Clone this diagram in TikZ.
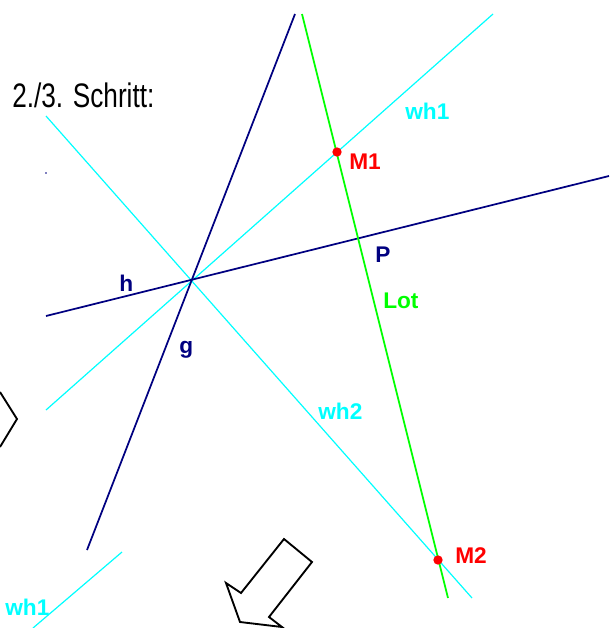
\documentclass[tikz,border=0pt]{standalone}
\usepackage{fontspec}
\setmainfont{Liberation Sans}
\newfontfamily\titlefont{Liberation Sans}[FakeStretch=0.77]
\usetikzlibrary{positioning}
\definecolor{cnavy}{RGB}{0,0,128}
\definecolor{ccyan}{RGB}{0,255,255}
\definecolor{cgreen}{RGB}{0,255,0}
\definecolor{cred}{RGB}{255,0,0}
\tikzset{
  navyline/.style={draw=cnavy, line width=1.3pt},
  cyanline/.style={draw=ccyan, line width=0.9pt},
  lotline/.style={draw=cgreen, line width=1.3pt},
  lbl/.style={font=\fontsize{17}{19}\selectfont\bfseries, text=#1, anchor=base west, inner sep=0pt},
  ptdot/.style={circle, fill=cred, inner sep=0pt, minimum size=7pt},
  outline/.style={draw=black, line width=1.4pt, line join=miter},
}

\begin{document}
\begin{tikzpicture}[x=0.75pt, y=-0.75pt]
\useasboundingbox (0,0) rectangle (611,628);

% end points of the lines
\coordinate (O) at (191,281);
\coordinate (gA) at (295,14);   \coordinate (gB) at (87,550);
\coordinate (hA) at (46,316);   \coordinate (hB) at (609,176);
\coordinate (wA) at (46,410);   \coordinate (wB) at (493,14);
\coordinate (vA) at (46,116);   \coordinate (vB) at (472,598);
\coordinate (lotA) at (302,14); \coordinate (lotB) at (448,598);
\coordinate (oldA) at (33,628); \coordinate (oldB) at (122,552);

% angle bisectors
\draw[cyanline] (wA) -- (wB);
\draw[cyanline] (vA) -- (vB);
\draw[cyanline] (oldA) -- (oldB);

% the two lines g and h
\draw[navyline] (gA) -- (gB);
\draw[navyline] (hA) -- (hB);
\fill[cnavy] (46,173) circle (0.8);

% perpendicular through P
\draw[lotline] (lotA) -- (lotB);
\node[ptdot] (M1) at (337,152) {};
\node[ptdot] (M2) at (438,560) {};
\coordinate (P) at (358,239);

% labels
\node[anchor=base west, inner sep=0pt, font=\titlefont\fontsize{25.5}{28}\selectfont] (title) at (12,107) {2./3. Schritt:};
\node[lbl=ccyan] (lwh1) at (405,119) {wh1};
\node[lbl=cred] (lM1) at (349,169) {M1};
\node[lbl=cnavy] (lP) at (375,262) {P};
\node[lbl=cgreen] (lLot) at (383,308) {Lot};
\node[lbl=cnavy] (lh) at (119,291) {h};
\node[lbl=cnavy] (lg) at (179,353) {g};
\node[lbl=ccyan] (lwh2) at (318,419) {wh2};
\node[lbl=cred] (lM2) at (455,563) {M2};
\node[lbl=ccyan] (lwh1b) at (5,615) {wh1};

% arrow fragments
\draw[outline] (0,392) -- (17,419) -- (0,447);
\draw[outline] (241,593) -- (284,539) -- (312,562) -- (269,617) -- (282,627)
  -- (240,622) -- (226,583) -- cycle;
\end{tikzpicture}
\end{document}
